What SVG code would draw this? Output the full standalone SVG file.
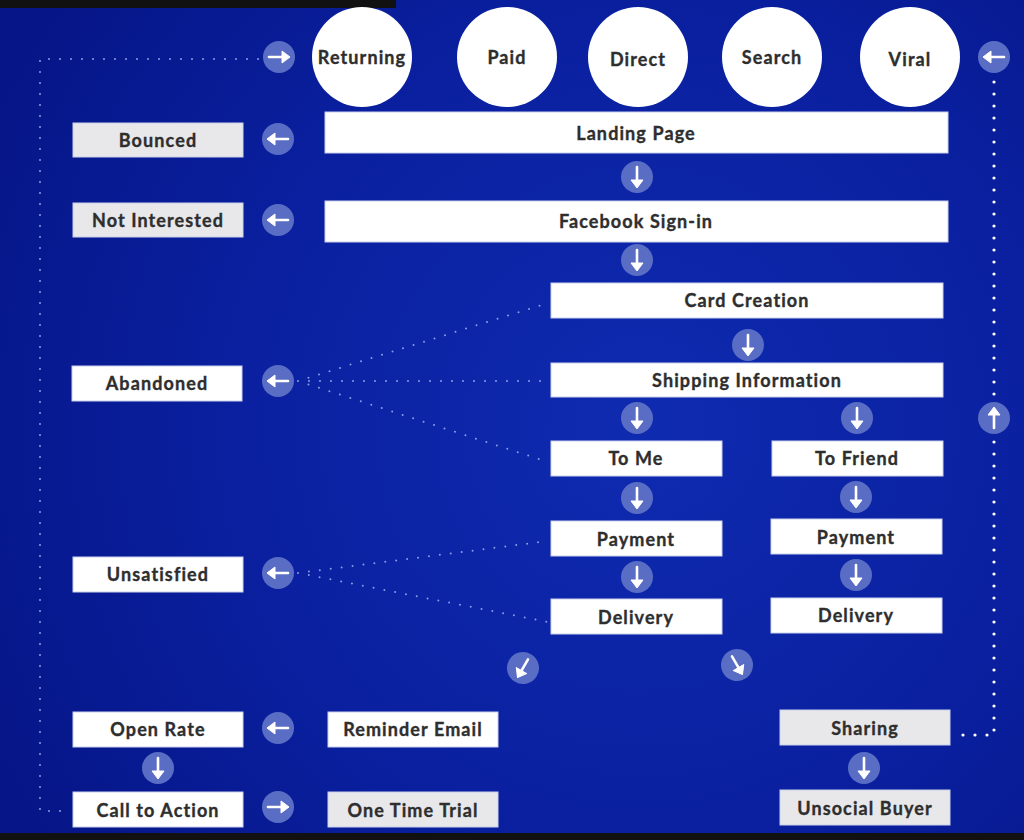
<svg xmlns="http://www.w3.org/2000/svg" width="1024" height="840" viewBox="0 0 1024 840">
<defs>
<radialGradient id="bg" cx="640" cy="430" r="720" gradientUnits="userSpaceOnUse">
<stop offset="0" stop-color="#0f2bb0"/>
<stop offset="0.55" stop-color="#0a20a0"/>
<stop offset="1" stop-color="#061688"/>
</radialGradient>
<g id="ar">
<circle r="16" fill="#5a6dc4"/>
<path d="M-10 0 H5" fill="none" stroke="#ffffff" stroke-width="2.6" stroke-linecap="round"/>
<path d="M3 -6 L11 0 L3 6 Z" fill="#ffffff" stroke="#ffffff" stroke-width="1" stroke-linejoin="round"/>
</g>
<style>
.w{fill:#ffffff;stroke:#c9d0ec;stroke-width:1}
.g{fill:#e8e8ea;stroke:#c9d0ec;stroke-width:1}
.c{fill:#ffffff}
.t{font-family:"Lato","Noto Sans","Liberation Sans",sans-serif;font-weight:bold;font-size:18px;letter-spacing:1.1px;fill:#2e2e2e;stroke:#2e2e2e;stroke-width:0.35;text-anchor:middle;dominant-baseline:central}
.d{fill:none;stroke:#8c9ce6;stroke-width:2;stroke-linecap:round;stroke-dasharray:0 11}
.db{fill:none;stroke:#ffffff;stroke-width:3.2;stroke-linecap:round;stroke-dasharray:0 12}
</style>
</defs>
<rect width="1024" height="840" fill="url(#bg)"/>
<rect x="0" y="0" width="396" height="8" fill="#111111"/>
<rect x="0" y="833" width="1024" height="7" fill="#111111"/>

<g id="connectors">
<path class="d" d="M258 59 H40 V811 H66"/>
<path class="db" d="M994 82 V735 H958"/>
<path class="d" d="M298 381 L548 303 M298 381 H548 M298 381 L548 462"/>
<path class="d" d="M298 573 L548 541 M298 573 L548 622"/>
<use href="#ar" transform="translate(279,57)"/>
<use href="#ar" transform="translate(994,57) rotate(180)"/>
<use href="#ar" transform="translate(278,139) rotate(180)"/>
<use href="#ar" transform="translate(278,220) rotate(180)"/>
<use href="#ar" transform="translate(637,177) rotate(90)"/>
<use href="#ar" transform="translate(637,260) rotate(90)"/>
<use href="#ar" transform="translate(748,345) rotate(90)"/>
<use href="#ar" transform="translate(278,381) rotate(180)"/>
<use href="#ar" transform="translate(637,418) rotate(90)"/>
<use href="#ar" transform="translate(857,418) rotate(90)"/>
<use href="#ar" transform="translate(994,418) rotate(-90)"/>
<use href="#ar" transform="translate(637,498) rotate(90)"/>
<use href="#ar" transform="translate(856,497) rotate(90)"/>
<use href="#ar" transform="translate(278,573) rotate(180)"/>
<use href="#ar" transform="translate(637,577) rotate(90)"/>
<use href="#ar" transform="translate(856,575) rotate(90)"/>
<use href="#ar" transform="translate(523,668) rotate(120)"/>
<use href="#ar" transform="translate(737,665) rotate(60)"/>
<use href="#ar" transform="translate(278,728) rotate(180)"/>
<use href="#ar" transform="translate(158,768) rotate(90)"/>
<use href="#ar" transform="translate(278,807)"/>
<use href="#ar" transform="translate(864,768) rotate(90)"/>
</g>

<g id="returning"><circle class="c" cx="362" cy="57" r="50"/><text class="t" x="362" y="57">Returning</text></g>
<g id="paid"><circle class="c" cx="507" cy="57" r="50"/><text class="t" x="507" y="57">Paid</text></g>
<g id="direct"><circle class="c" cx="638" cy="57" r="50"/><text class="t" x="638" y="59">Direct</text></g>
<g id="search"><circle class="c" cx="772" cy="57" r="50"/><text class="t" x="772" y="57">Search</text></g>
<g id="viral"><circle class="c" cx="910" cy="57" r="50"/><text class="t" x="910" y="59">Viral</text></g>

<g id="bounced"><rect class="g" x="73" y="123" width="170" height="34"/><text class="t" x="158" y="140">Bounced</text></g>
<g id="landing"><rect class="w" x="325" y="112" width="623" height="41"/><text class="t" x="636" y="133">Landing Page</text></g>
<g id="notinterested"><rect class="g" x="73" y="203" width="170" height="34"/><text class="t" x="158" y="220">Not Interested</text></g>
<g id="facebook"><rect class="w" x="325" y="201" width="623" height="41"/><text class="t" x="636" y="221">Facebook Sign-in</text></g>
<g id="card"><rect class="w" x="551" y="283" width="392" height="35"/><text class="t" x="747" y="300">Card Creation</text></g>
<g id="shipping"><rect class="w" x="551" y="363" width="392" height="34"/><text class="t" x="747" y="380">Shipping Information</text></g>
<g id="abandoned"><rect class="w" x="72" y="366" width="170" height="35"/><text class="t" x="157" y="383">Abandoned</text></g>
<g id="tome"><rect class="w" x="551" y="441" width="171" height="35"/><text class="t" x="636" y="458">To Me</text></g>
<g id="tofriend"><rect class="w" x="772" y="441" width="171" height="35"/><text class="t" x="857" y="458">To Friend</text></g>
<g id="payment1"><rect class="w" x="551" y="521" width="171" height="35"/><text class="t" x="636" y="539">Payment</text></g>
<g id="payment2"><rect class="w" x="771" y="519" width="171" height="35"/><text class="t" x="856" y="537">Payment</text></g>
<g id="unsatisfied"><rect class="w" x="73" y="557" width="170" height="35"/><text class="t" x="158" y="574">Unsatisfied</text></g>
<g id="delivery1"><rect class="w" x="551" y="599" width="171" height="35"/><text class="t" x="636" y="617">Delivery</text></g>
<g id="delivery2"><rect class="w" x="771" y="598" width="171" height="35"/><text class="t" x="856" y="615">Delivery</text></g>
<g id="openrate"><rect class="w" x="73" y="712" width="170" height="35"/><text class="t" x="158" y="729">Open Rate</text></g>
<g id="reminder"><rect class="w" x="328" y="712" width="170" height="35"/><text class="t" x="413" y="729">Reminder Email</text></g>
<g id="calltoaction"><rect class="w" x="73" y="792" width="170" height="35"/><text class="t" x="158" y="810">Call to Action</text></g>
<g id="onetimetrial"><rect class="g" x="328" y="792" width="170" height="35"/><text class="t" x="413" y="810">One Time Trial</text></g>
<g id="sharing"><rect class="g" x="780" y="710" width="170" height="35"/><text class="t" x="865" y="728">Sharing</text></g>
<g id="unsocial"><rect class="g" x="780" y="790" width="170" height="35"/><text class="t" x="865" y="808">Unsocial Buyer</text></g>
</svg>
